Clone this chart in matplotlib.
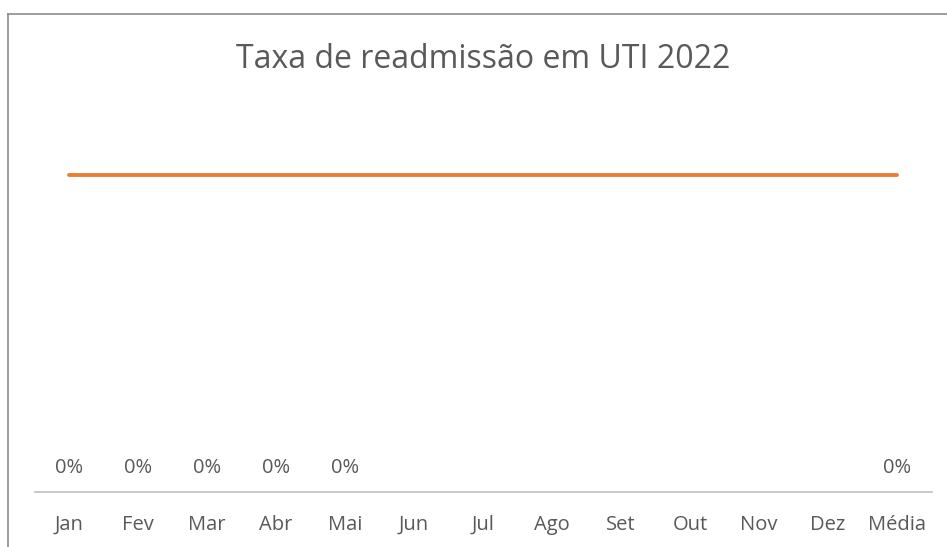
import matplotlib.pyplot as plt
import numpy as np

# dados
meses = ['Jan', 'Fev', 'Mar', 'Abr', 'Mai', 'Jun', 'Jul', 'Ago', 'Set', 'Out', 'Nov', 'Dez', 'Média']
taxa = [0, 0, 0, 0, 0, None, None, None, None, None, None, None, 0]
meta = [0.05] * 13

plt.rcParams['font.family'] = ['Open Sans', 'DejaVu Sans']
cinza = '#595959'

fig = plt.figure(figsize=(9.47, 5.47), dpi=100)
ax = fig.add_axes([34.5 / 947, (547 - 492) / 547, 897 / 947, 380 / 547])

x = np.arange(len(meses))
alturas = [v if v is not None else 0 for v in taxa]
ax.bar(x, alturas, width=0.6, color='#4472C4')
ax.plot(x, meta, color='#ED7D31', linewidth=2.8, solid_capstyle='round')

# rotulos dos valores
for i, v in enumerate(taxa):
    if v is not None:
        ax.annotate(f'{v:.0%}', (x[i], v), xytext=(0, 14), textcoords='offset pixels',
                    ha='center', va='bottom', fontsize=14.5, color=cinza)

ax.set_xlim(-0.5, len(meses) - 0.5)
ax.set_ylim(0, 0.06)
ax.set_xticks(x)
ax.set_xticklabels(meses, fontsize=14.5, color=cinza)
ax.tick_params(axis='x', length=0, pad=16.5)
ax.set_yticks([])
for s in ['top', 'right', 'left']:
    ax.spines[s].set_visible(False)
ax.spines['bottom'].set_color('#bfbfbf')
ax.spines['bottom'].set_linewidth(1.2)

fig.text(483 / 947, 1 - 60 / 547, 'Taxa de readmissão em UTI 2022', ha='center', va='center',
         fontsize=23, color=cinza)

# moldura do grafico (cortada a direita e em baixo)
fig.add_artist(plt.Line2D([7.5 / 947, 7.5 / 947], [0, 1 - 13.5 / 547], color='#8c8c8c', linewidth=1.2))
fig.add_artist(plt.Line2D([7.5 / 947, 1], [1 - 13.5 / 547, 1 - 13.5 / 547], color='#8c8c8c', linewidth=1.2))

plt.savefig('out.png', dpi=100)
